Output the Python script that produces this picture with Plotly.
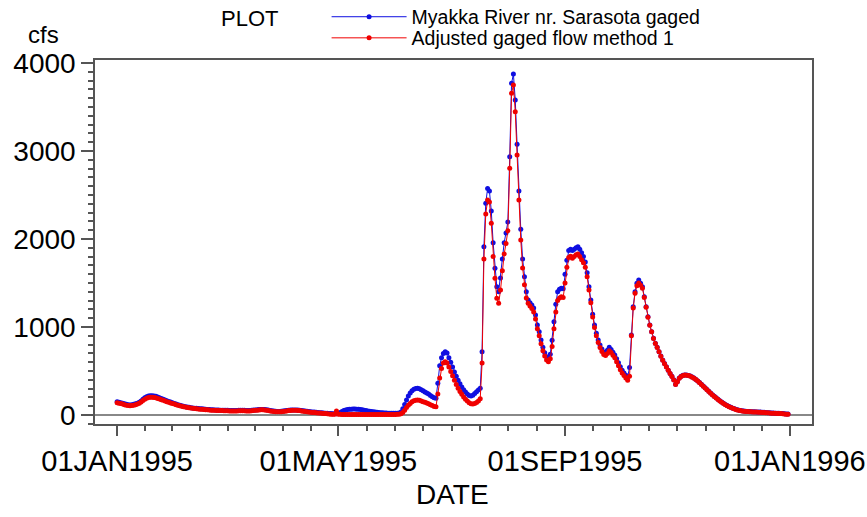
import pandas as pd
import plotly.graph_objects as go

# daily flow, 1995 (cfs)
dates = pd.date_range("1995-01-01", "1995-12-31", freq="D")

gaged = [
    # Jan
    150, 145, 140, 135, 128, 122, 118, 115, 118, 122, 128, 135, 145, 160, 178, 195, 207, 215, 220, 220,
    217, 212, 205, 197, 188, 180, 172, 163, 155, 147, 140,
    # Feb
    132, 125, 118, 112, 106, 100, 95, 91, 87, 84, 81, 78, 76, 74, 72, 70, 68, 66, 64, 62,
    60, 59, 58, 57, 56, 55, 55, 54,
    # Mar
    54, 53, 52, 52, 51, 51, 52, 53, 54, 54, 53, 52, 51, 52, 54, 56, 58, 60, 62, 64,
    64, 63, 60, 56, 52, 48, 45, 42, 40, 40, 42,
    # Apr
    45, 48, 51, 54, 56, 57, 58, 58, 57, 55, 52, 49, 46, 43, 40, 37, 35, 33, 31, 29,
    27, 25, 23, 21, 19, 17, 16, 15, 14, 14,
    # May
    18, 28, 40, 50, 57, 62, 65, 67, 68, 68, 67, 65, 62, 59, 55, 51, 47, 43, 40, 37,
    34, 31, 29, 27, 25, 23, 22, 21, 20, 19, 19,
    # Jun
    19, 20, 24, 35, 70, 120, 170, 215, 250, 275, 292, 300, 303, 298, 288, 275, 262, 250, 238, 222,
    208, 195, 190, 360, 560, 650, 700, 720, 705, 650,
    # Jul
    600, 545, 490, 440, 395, 355, 318, 288, 262, 240, 222, 215, 225, 245, 265, 285, 303, 720, 1912, 2405,
    2575, 2545, 2318, 1958, 1667, 1458, 1402, 1556, 1773, 1958, 2068,
    # Aug
    2193, 2935, 3769, 3875, 3580, 3076, 2545, 2110, 1773, 1572, 1402, 1307, 1277, 1250, 1216, 1136, 1023, 947, 852, 769,
    708, 663, 650, 690, 850, 1060, 1260, 1400, 1430, 1440, 1435,
    # Sep
    1600, 1760, 1870, 1885, 1870, 1885, 1900, 1912, 1885, 1845, 1800, 1740, 1617, 1458, 1307, 1144, 1023, 928, 852, 795,
    750, 715, 705, 735, 769, 745, 712, 682, 640, 595,
    # Oct
    548, 510, 478, 452, 432, 540, 909, 1231, 1401, 1496, 1534, 1496, 1458, 1344, 1231, 1117, 1023, 947, 872, 815,
    769, 720, 670, 625, 585, 549, 510, 473, 440, 400, 350,
    # Nov
    380, 420, 440, 452, 456, 455, 450, 442, 432, 420, 405, 388, 370, 350, 330, 310, 290, 270, 250, 230,
    212, 195, 178, 162, 147, 133, 120, 108, 97, 87,
    # Dec
    78, 70, 63, 57, 52, 48, 45, 43, 41, 39, 38, 37, 36, 35, 34, 33, 32, 31, 29, 27,
    25, 23, 22, 21, 20, 19, 18, 16, 14, 12, 11,
]

adjusted = [
    # Jan
    140, 135, 130, 125, 118, 112, 108, 106, 108, 112, 118, 125, 135, 148, 164, 180, 191, 198, 202, 202,
    199, 195, 189, 182, 174, 167, 160, 152, 145, 138, 131,
    # Feb
    124, 117, 111, 105, 100, 95, 90, 86, 82, 79, 76, 73, 71, 69, 67, 65, 63, 61, 59, 57,
    55, 54, 53, 52, 51, 50, 50, 49,
    # Mar
    49, 48, 47, 47, 46, 46, 47, 48, 49, 49, 48, 47, 46, 47, 49, 51, 53, 55, 57, 59,
    59, 58, 55, 51, 47, 44, 41, 38, 36, 36, 38,
    # Apr
    41, 44, 47, 50, 52, 53, 53, 53, 52, 50, 47, 44, 41, 38, 35, 32, 30, 28, 26, 24,
    22, 20, 18, 16, 14, 12, 10, 9, 8, 45,
    # May
    8, 8, 7, 7, 7, 6, 6, 6, 6, 6, 6, 6, 6, 6, 6, 6, 6, 6, 6, 6,
    6, 6, 6, 6, 6, 6, 6, 6, 6, 6, 6,
    # Jun
    7, 8, 10, 15, 30, 55, 85, 110, 132, 150, 162, 168, 170, 167, 160, 152, 144, 136, 128, 118,
    108, 98, 95, 240, 420, 530, 590, 606, 590, 545,
    # Jul
    495, 445, 395, 348, 305, 268, 235, 205, 180, 158, 140, 128, 125, 130, 142, 160, 185, 590, 1773, 2284,
    2443, 2420, 2178, 1800, 1553, 1326, 1269, 1420, 1640, 1830, 1950,
    # Aug
    2095, 2803, 3655, 3750, 3447, 2955, 2443, 1990, 1670, 1480, 1330, 1270, 1240, 1210, 1170, 1090, 980, 900, 810, 730,
    670, 625, 605, 640, 780, 980, 1170, 1300, 1330, 1345, 1335,
    # Sep
    1500, 1680, 1790, 1805, 1780, 1800, 1820, 1830, 1800, 1765, 1730, 1680, 1570, 1420, 1275, 1115, 995, 900, 825, 768,
    722, 688, 675, 700, 730, 710, 680, 650, 605, 560,
    # Oct
    515, 478, 448, 420, 395, 440, 900, 1215, 1385, 1470, 1500, 1475, 1440, 1335, 1225, 1112, 1020, 945, 870, 813,
    767, 718, 668, 623, 583, 547, 508, 471, 438, 398, 348,
    # Nov
    378, 418, 438, 450, 454, 453, 448, 440, 430, 418, 403, 386, 368, 348, 328, 308, 288, 268, 248, 228,
    210, 193, 176, 160, 145, 131, 118, 106, 95, 85,
    # Dec
    76, 68, 61, 55, 50, 46, 43, 41, 39, 37, 36, 35, 34, 33, 32, 31, 30, 29, 27, 25,
    23, 21, 20, 19, 18, 17, 16, 14, 12, 10, 9,
]

assert len(gaged) == len(dates) == len(adjusted), (len(gaged), len(adjusted))

major_ticks = ["1995-01-01", "1995-05-01", "1995-09-01", "1996-01-01"]
major_labels = ["01JAN1995", "01MAY1995", "01SEP1995", "01JAN1996"]

# 7 minor ticks evenly spaced between each pair of major dates
minor_ticks = []
for a, b in zip(major_ticks[:-1], major_ticks[1:]):
    a, b = pd.Timestamp(a), pd.Timestamp(b)
    for k in range(1, 8):
        minor_ticks.append((a + (b - a) * k / 8).strftime("%Y-%m-%d %H:%M"))

FONT = "Arial, Liberation Sans, sans-serif"
BLUE = "rgb(15,15,225)"
RED = "rgb(240,0,0)"

fig = go.Figure()
fig.add_trace(go.Scatter(
    x=dates, y=gaged, mode="lines+markers", name="Myakka River nr. Sarasota gaged",
    line=dict(color=BLUE, width=1), marker=dict(color=BLUE, size=5),
    legend="legend",
))
fig.add_trace(go.Scatter(
    x=dates, y=adjusted, mode="lines+markers", name="Adjusted gaged flow method 1",
    line=dict(color=RED, width=1), marker=dict(color=RED, size=5),
    legend="legend2",
))

# one legend per row so the two entries can sit as close as in the original
legend_style = dict(
    xanchor="left", yanchor="middle", font=dict(size=19.5, family=FONT),
    bgcolor="rgba(0,0,0,0)", itemwidth=75,
)

fig.update_layout(
    width=867, height=517,
    margin=dict(l=95, r=55, t=60, b=93, autoexpand=False),
    paper_bgcolor="white", plot_bgcolor="white",
    font=dict(family=FONT, color="black"),
    showlegend=True,
    legend=dict(x=0.323, y=1.118, **legend_style),
    legend2=dict(x=0.323, y=1.060, **legend_style),
    annotations=[
        dict(text="PLOT", x=0.216, y=1.115, xref="paper", yref="paper",
             xanchor="center", yanchor="middle", showarrow=False, font=dict(size=22)),
        dict(text="cfs", x=-0.0725, y=1.07, xref="paper", yref="paper",
             xanchor="center", yanchor="middle", showarrow=False, font=dict(size=24)),
        dict(text="DATE", x=0.498, y=-0.195, xref="paper", yref="paper",
             xanchor="center", yanchor="middle", showarrow=False, font=dict(size=28)),
    ],
)

fig.update_xaxes(
    range=["1994-12-20", "1996-01-13"],
    tickvals=major_ticks, ticktext=major_labels,
    ticks="outside", ticklen=10, tickwidth=1.5, tickcolor="#555",
    minor=dict(tickvals=minor_ticks, ticks="outside", ticklen=5, tickcolor="#555"),
    showgrid=False, zeroline=False, automargin=False,
    showline=True, mirror=True, linecolor="#555", linewidth=1.5,
    tickfont=dict(size=29), ticklabeloverflow="allow",
)
fig.update_yaxes(
    range=[-102, 4034],
    tickvals=[0, 1000, 2000, 3000, 4000],
    ticks="outside", ticklen=12, tickwidth=1.5, tickcolor="#555",
    minor=dict(dtick=100, ticks="outside", ticklen=5, tickcolor="#555"),
    showgrid=False, automargin=False,
    zeroline=True, zerolinecolor="#888", zerolinewidth=2,
    showline=True, mirror=True, linecolor="#555", linewidth=1.5,
    tickfont=dict(size=28),
)

# drop the page's default body margin so the figure sits at the window's corner
fig.write_html(
    "out.html",
    config={"displayModeBar": False},
    post_script="document.body.style.margin='0';",
)
